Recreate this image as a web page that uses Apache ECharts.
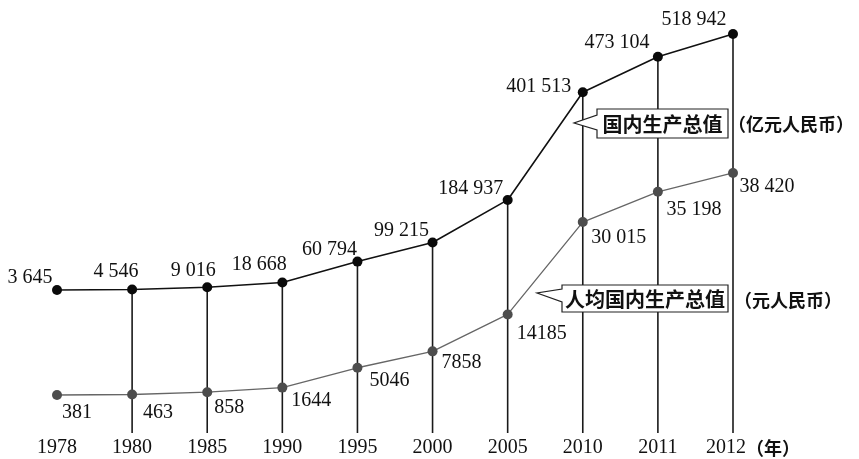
<!DOCTYPE html>
<html>
<head>
<meta charset="utf-8">
<script src="https://cdn.jsdelivr.net/npm/echarts@6/dist/echarts.min.js"></script>
<style>
  html, body { margin: 0; padding: 0; background: #fff; }
  #chart { width: 859px; height: 459px; }
</style>
</head>
<body>
<div id="chart"></div>
<script>
// Years on the horizontal axis
const years = ['1978', '1980', '1985', '1990', '1995', '2000', '2005', '2010', '2011', '2012'];
// GDP, 100 million yuan
const gdp = [3645, 4546, 9016, 18668, 60794, 99215, 184937, 401513, 473104, 518942];
// GDP per capita, yuan
const gdpPerCapita = [381, 463, 858, 1644, 5046, 7858, 14185, 30015, 35198, 38420];
// Label text for the per-capita series
const gdpPerCapitaText = ['381', '463', '858', '1644', '5046', '7858', '14185', '30 015', '35 198', '38 420'];

// Label offsets (px) relative to each point
const gdpLabelOffset = [[-27, -12], [-16, -18], [-14, -17], [-23, -18], [-28, -12], [-31, -12], [-37, -11], [-44, -6], [-41, -14], [-39, -14]];
const pcLabelOffset = [[20, 18], [26, 18], [22, 16], [29, 13], [32, 13], [29, 11], [34, 19], [36, 16], [36, 18], [34, 14]];

const NUM_FONT = '"Liberation Serif", "Times New Roman", serif';
const CJK_FONT = '"Noto Sans CJK SC", sans-serif';
const NUM_SIZE = 20;

const spaced = v => String(v).replace(/\B(?=(\d{3})+(?!\d))/g, ' ');

const chart = echarts.init(document.getElementById('chart'), null, { renderer: 'canvas' });

chart.setOption({
  backgroundColor: '#ffffff',
  animation: false,
  grid: { left: 57, right: 126, top: 20, bottom: 26 },
  xAxis: {
    type: 'category',
    data: years,
    boundaryGap: false,
    axisLine: { show: false },
    axisTick: { show: false },
    splitLine: { show: false },
    axisLabel: {
      interval: 0,
      hideOverlap: false,
      margin: 5,
      color: '#111',
      fontFamily: NUM_FONT,
      fontSize: NUM_SIZE,
      formatter: v => v === '2012' ? '{last|' + v + '}' : v,
      rich: { last: { padding: [0, 14, 0, 0], fontFamily: NUM_FONT, fontSize: NUM_SIZE, color: '#111' } }
    }
  },
  yAxis: [
    { type: 'value', show: false, min: -284219, max: 547101, splitLine: { show: false } },
    { type: 'value', show: false, min: -6134, max: 64634, splitLine: { show: false } }
  ],
  series: [
    {
      // vertical drop lines from each GDP point to the baseline
      type: 'custom',
      yAxisIndex: 0,
      z: 1,
      data: gdp.map((v, i) => [i, v]),
      encode: { x: 0, y: 1 },
      renderItem: (params, api) => {
        const i = api.value(0);
        if (i === 0) return null;
        const p = api.coord([i, api.value(1)]);
        const bottom = params.coordSys.y + params.coordSys.height;
        return {
          type: 'line',
          shape: { x1: p[0], y1: p[1], x2: p[0], y2: bottom },
          style: { stroke: '#1a1a1a', lineWidth: 1.6 }
        };
      }
    },
    {
      name: '国内生产总值',
      type: 'line',
      yAxisIndex: 0,
      z: 3,
      symbol: 'circle',
      symbolSize: 10,
      lineStyle: { color: '#111', width: 1.6 },
      itemStyle: { color: '#0a0a0a' },
      data: gdp.map((v, i) => ({ value: v, label: { offset: gdpLabelOffset[i] } })),
      label: {
        show: true,
        position: 'inside',
        align: 'center',
        verticalAlign: 'middle',
        color: '#111',
        fontFamily: NUM_FONT,
        fontSize: NUM_SIZE,
        formatter: p => spaced(p.value)
      }
    },
    {
      name: '人均国内生产总值',
      type: 'line',
      yAxisIndex: 1,
      z: 3,
      symbol: 'circle',
      symbolSize: 10,
      lineStyle: { color: '#666', width: 1.3 },
      itemStyle: { color: '#4d4d4d' },
      data: gdpPerCapita.map((v, i) => ({ value: v, label: { offset: pcLabelOffset[i] } })),
      label: {
        show: true,
        position: 'inside',
        align: 'center',
        verticalAlign: 'middle',
        color: '#111',
        fontFamily: NUM_FONT,
        fontSize: NUM_SIZE,
        formatter: p => gdpPerCapitaText[p.dataIndex]
      }
    }
  ],
  graphic: [
    {
      type: 'polygon',
      z: 10,
      shape: { points: [[597, 109], [728, 109], [728, 138], [597, 138], [597, 130], [574, 123], [597, 115]] },
      style: { fill: '#fff', stroke: '#222', lineWidth: 1.2 }
    },
    {
      type: 'text', z: 11, x: 662.5, y: 124,
      style: { text: '国内生产总值', font: 'bold 20px ' + CJK_FONT, fill: '#111', align: 'center', verticalAlign: 'middle' }
    },
    {
      type: 'text', z: 11, x: 728, y: 124,
      style: { text: '（亿元人民币）', font: 'bold 18px ' + CJK_FONT, fill: '#111', align: 'left', verticalAlign: 'middle' }
    },
    {
      type: 'polygon',
      z: 10,
      shape: { points: [[562, 285], [728, 285], [728, 312], [562, 312], [562, 302], [537, 293], [562, 289]] },
      style: { fill: '#fff', stroke: '#222', lineWidth: 1.2 }
    },
    {
      type: 'text', z: 11, x: 645, y: 299,
      style: { text: '人均国内生产总值', font: 'bold 20px ' + CJK_FONT, fill: '#111', align: 'center', verticalAlign: 'middle' }
    },
    {
      type: 'text', z: 11, x: 734, y: 300,
      style: { text: '（元人民币）', font: 'bold 18px ' + CJK_FONT, fill: '#111', align: 'left', verticalAlign: 'middle' }
    },
    {
      type: 'text', z: 11, x: 746, y: 448,
      style: { text: '（年）', font: 'bold 18px ' + CJK_FONT, fill: '#111', align: 'left', verticalAlign: 'middle' }
    }
  ]
});
</script>
</body>
</html>
